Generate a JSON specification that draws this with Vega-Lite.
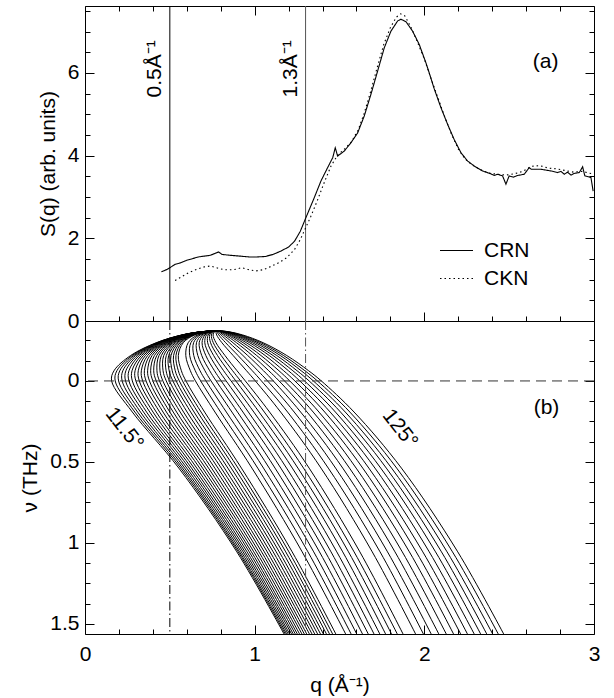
{
"$schema": "https://vega.github.io/schema/vega-lite/v6.json",
"padding": {"left": 19, "top": 5, "right": 5, "bottom": 2},
"config": {
  "font": "Liberation Sans",
  "view": {"stroke": "#000", "strokeWidth": 1},
  "axis": {"grid": false, "domain": false, "tickColor": "#000", "tickWidth": 1, "labelColor": "#000", "labelFontSize": 21, "labelFont": "Liberation Sans", "titleFont": "Liberation Sans", "titleFontSize": 21, "titleFontWeight": "normal", "titleColor": "#000", "labelFlush": false, "labelOverlap": false, "labelPadding": 15, "titlePadding": 9, "format": "~g"},
  "text": {"font": "Liberation Sans", "fontSize": 21, "color": "#000"}
},
"datasets": {
"sq": [
{"s":"CRN","q":0.450,"S":1.19},{"s":"CRN","q":0.485,"S":1.25},{"s":"CRN","q":0.531,"S":1.37},{"s":"CRN","q":0.565,"S":1.41},{"s":"CRN","q":0.600,"S":1.47},{"s":"CRN","q":0.635,"S":1.51},{"s":"CRN","q":0.669,"S":1.55},{"s":"CRN","q":0.704,"S":1.57},{"s":"CRN","q":0.739,"S":1.59},{"s":"CRN","q":0.769,"S":1.64},{"s":"CRN","q":0.787,"S":1.67},{"s":"CRN","q":0.808,"S":1.61},{"s":"CRN","q":0.854,"S":1.59},{"s":"CRN","q":0.912,"S":1.57},{"s":"CRN","q":0.969,"S":1.55},{"s":"CRN","q":1.015,"S":1.55},{"s":"CRN","q":1.062,"S":1.56},{"s":"CRN","q":1.108,"S":1.61},{"s":"CRN","q":1.154,"S":1.69},{"s":"CRN","q":1.200,"S":1.79},{"s":"CRN","q":1.235,"S":1.93},{"s":"CRN","q":1.269,"S":2.17},{"s":"CRN","q":1.302,"S":2.50},{"s":"CRN","q":1.351,"S":2.98},{"s":"CRN","q":1.391,"S":3.39},{"s":"CRN","q":1.430,"S":3.71},{"s":"CRN","q":1.460,"S":3.95},{"s":"CRN","q":1.475,"S":4.19},{"s":"CRN","q":1.489,"S":3.99},{"s":"CRN","q":1.528,"S":4.11},{"s":"CRN","q":1.567,"S":4.31},{"s":"CRN","q":1.607,"S":4.55},{"s":"CRN","q":1.646,"S":4.96},{"s":"CRN","q":1.685,"S":5.48},{"s":"CRN","q":1.725,"S":6.05},{"s":"CRN","q":1.764,"S":6.61},{"s":"CRN","q":1.803,"S":7.01},{"s":"CRN","q":1.843,"S":7.26},{"s":"CRN","q":1.862,"S":7.30},{"s":"CRN","q":1.892,"S":7.24},{"s":"CRN","q":1.931,"S":7.01},{"s":"CRN","q":1.970,"S":6.69},{"s":"CRN","q":2.009,"S":6.25},{"s":"CRN","q":2.029,"S":6.00},{"s":"CRN","q":2.058,"S":5.62},{"s":"CRN","q":2.098,"S":5.16},{"s":"CRN","q":2.137,"S":4.76},{"s":"CRN","q":2.176,"S":4.39},{"s":"CRN","q":2.216,"S":4.07},{"s":"CRN","q":2.255,"S":3.87},{"s":"CRN","q":2.294,"S":3.75},{"s":"CRN","q":2.343,"S":3.63},{"s":"CRN","q":2.392,"S":3.56},{"s":"CRN","q":2.412,"S":3.52},{"s":"CRN","q":2.432,"S":3.55},{"s":"CRN","q":2.461,"S":3.51},{"s":"CRN","q":2.481,"S":3.31},{"s":"CRN","q":2.500,"S":3.51},{"s":"CRN","q":2.525,"S":3.48},{"s":"CRN","q":2.550,"S":3.52},{"s":"CRN","q":2.589,"S":3.55},{"s":"CRN","q":2.618,"S":3.71},{"s":"CRN","q":2.630,"S":3.67},{"s":"CRN","q":2.687,"S":3.67},{"s":"CRN","q":2.746,"S":3.63},{"s":"CRN","q":2.785,"S":3.59},{"s":"CRN","q":2.805,"S":3.62},{"s":"CRN","q":2.825,"S":3.55},{"s":"CRN","q":2.844,"S":3.60},{"s":"CRN","q":2.864,"S":3.53},{"s":"CRN","q":2.884,"S":3.57},{"s":"CRN","q":2.913,"S":3.59},{"s":"CRN","q":2.933,"S":3.73},{"s":"CRN","q":2.946,"S":3.51},{"s":"CRN","q":2.982,"S":3.47},{"s":"CRN","q":2.995,"S":3.14},
{"s":"CKN","q":0.531,"S":0.98},{"s":"CKN","q":0.565,"S":1.06},{"s":"CKN","q":0.612,"S":1.17},{"s":"CKN","q":0.658,"S":1.25},{"s":"CKN","q":0.704,"S":1.31},{"s":"CKN","q":0.739,"S":1.33},{"s":"CKN","q":0.773,"S":1.29},{"s":"CKN","q":0.819,"S":1.24},{"s":"CKN","q":0.877,"S":1.24},{"s":"CKN","q":0.923,"S":1.29},{"s":"CKN","q":0.958,"S":1.25},{"s":"CKN","q":1.004,"S":1.21},{"s":"CKN","q":1.050,"S":1.24},{"s":"CKN","q":1.096,"S":1.32},{"s":"CKN","q":1.142,"S":1.41},{"s":"CKN","q":1.189,"S":1.53},{"s":"CKN","q":1.235,"S":1.73},{"s":"CKN","q":1.269,"S":1.97},{"s":"CKN","q":1.300,"S":2.25},{"s":"CKN","q":1.330,"S":2.52},{"s":"CKN","q":1.370,"S":2.92},{"s":"CKN","q":1.410,"S":3.35},{"s":"CKN","q":1.450,"S":3.75},{"s":"CKN","q":1.490,"S":4.02},{"s":"CKN","q":1.530,"S":4.16},{"s":"CKN","q":1.570,"S":4.33},{"s":"CKN","q":1.610,"S":4.62},{"s":"CKN","q":1.645,"S":5.02},{"s":"CKN","q":1.680,"S":5.50},{"s":"CKN","q":1.720,"S":6.10},{"s":"CKN","q":1.760,"S":6.68},{"s":"CKN","q":1.800,"S":7.10},{"s":"CKN","q":1.835,"S":7.35},{"s":"CKN","q":1.860,"S":7.43},{"s":"CKN","q":1.885,"S":7.38},{"s":"CKN","q":1.920,"S":7.12},{"s":"CKN","q":1.960,"S":6.74},{"s":"CKN","q":2.000,"S":6.34},{"s":"CKN","q":2.040,"S":5.86},{"s":"CKN","q":2.080,"S":5.40},{"s":"CKN","q":2.120,"S":4.94},{"s":"CKN","q":2.160,"S":4.52},{"s":"CKN","q":2.200,"S":4.16},{"s":"CKN","q":2.240,"S":3.92},{"s":"CKN","q":2.280,"S":3.78},{"s":"CKN","q":2.330,"S":3.66},{"s":"CKN","q":2.380,"S":3.58},{"s":"CKN","q":2.430,"S":3.55},{"s":"CKN","q":2.480,"S":3.53},{"s":"CKN","q":2.530,"S":3.56},{"s":"CKN","q":2.580,"S":3.62},{"s":"CKN","q":2.630,"S":3.74},{"s":"CKN","q":2.680,"S":3.76},{"s":"CKN","q":2.730,"S":3.70},{"s":"CKN","q":2.780,"S":3.68},{"s":"CKN","q":2.830,"S":3.64},{"s":"CKN","q":2.880,"S":3.60},{"s":"CKN","q":2.930,"S":3.62},{"s":"CKN","q":2.970,"S":3.58},{"s":"CKN","q":3.000,"S":3.55}
],
"kin": [
{"a":11.5,"v":-0.309,"q":0.785},{"a":11.5,"v":-0.304,"q":0.687},{"a":11.5,"v":-0.284,"q":0.571},{"a":11.5,"v":-0.236,"q":0.420},{"a":11.5,"v":-0.157,"q":0.269},{"a":11.5,"v":-0.063,"q":0.171},{"a":11.5,"v":0,"q":0.157},{"a":11.5,"v":0.192,"q":0.279},{"a":11.5,"v":0.538,"q":0.553},{"a":11.5,"v":1.055,"q":0.895},{"a":11.5,"v":1.596,"q":1.191},
{"a":13,"v":-0.309,"q":0.785},{"a":13,"v":-0.304,"q":0.688},{"a":13,"v":-0.284,"q":0.573},{"a":13,"v":-0.236,"q":0.424},{"a":13,"v":-0.157,"q":0.278},{"a":13,"v":-0.063,"q":0.188},{"a":13,"v":0,"q":0.178},{"a":13,"v":0.192,"q":0.294},{"a":13,"v":0.538,"q":0.564},{"a":13,"v":1.055,"q":0.903},{"a":13,"v":1.596,"q":1.198},
{"a":14.5,"v":-0.309,"q":0.785},{"a":14.5,"v":-0.304,"q":0.689},{"a":14.5,"v":-0.284,"q":0.575},{"a":14.5,"v":-0.236,"q":0.428},{"a":14.5,"v":-0.157,"q":0.288},{"a":14.5,"v":-0.063,"q":0.205},{"a":14.5,"v":0,"q":0.198},{"a":14.5,"v":0.192,"q":0.310},{"a":14.5,"v":0.538,"q":0.575},{"a":14.5,"v":1.055,"q":0.911},{"a":14.5,"v":1.596,"q":1.206},
{"a":16,"v":-0.309,"q":0.785},{"a":16,"v":-0.304,"q":0.689},{"a":16,"v":-0.284,"q":0.577},{"a":16,"v":-0.236,"q":0.433},{"a":16,"v":-0.157,"q":0.298},{"a":16,"v":-0.063,"q":0.223},{"a":16,"v":0,"q":0.219},{"a":16,"v":0.192,"q":0.327},{"a":16,"v":0.538,"q":0.587},{"a":16,"v":1.055,"q":0.921},{"a":16,"v":1.596,"q":1.215},
{"a":17.5,"v":-0.309,"q":0.785},{"a":17.5,"v":-0.304,"q":0.690},{"a":17.5,"v":-0.284,"q":0.579},{"a":17.5,"v":-0.236,"q":0.438},{"a":17.5,"v":-0.157,"q":0.309},{"a":17.5,"v":-0.063,"q":0.241},{"a":17.5,"v":0,"q":0.239},{"a":17.5,"v":0.192,"q":0.345},{"a":17.5,"v":0.538,"q":0.600},{"a":17.5,"v":1.055,"q":0.932},{"a":17.5,"v":1.596,"q":1.224},
{"a":19,"v":-0.309,"q":0.785},{"a":19,"v":-0.304,"q":0.691},{"a":19,"v":-0.284,"q":0.581},{"a":19,"v":-0.236,"q":0.443},{"a":19,"v":-0.157,"q":0.320},{"a":19,"v":-0.063,"q":0.259},{"a":19,"v":0,"q":0.259},{"a":19,"v":0.192,"q":0.363},{"a":19,"v":0.538,"q":0.614},{"a":19,"v":1.055,"q":0.943},{"a":19,"v":1.596,"q":1.235},
{"a":20.5,"v":-0.309,"q":0.785},{"a":20.5,"v":-0.304,"q":0.692},{"a":20.5,"v":-0.284,"q":0.584},{"a":20.5,"v":-0.236,"q":0.449},{"a":20.5,"v":-0.157,"q":0.332},{"a":20.5,"v":-0.063,"q":0.277},{"a":20.5,"v":0,"q":0.279},{"a":20.5,"v":0.192,"q":0.382},{"a":20.5,"v":0.538,"q":0.628},{"a":20.5,"v":1.055,"q":0.955},{"a":20.5,"v":1.596,"q":1.245},
{"a":22,"v":-0.309,"q":0.785},{"a":22,"v":-0.304,"q":0.693},{"a":22,"v":-0.284,"q":0.587},{"a":22,"v":-0.236,"q":0.456},{"a":22,"v":-0.157,"q":0.344},{"a":22,"v":-0.063,"q":0.295},{"a":22,"v":0,"q":0.300},{"a":22,"v":0.192,"q":0.401},{"a":22,"v":0.538,"q":0.643},{"a":22,"v":1.055,"q":0.968},{"a":22,"v":1.596,"q":1.257},
{"a":23.5,"v":-0.309,"q":0.785},{"a":23.5,"v":-0.304,"q":0.694},{"a":23.5,"v":-0.284,"q":0.590},{"a":23.5,"v":-0.236,"q":0.462},{"a":23.5,"v":-0.157,"q":0.356},{"a":23.5,"v":-0.063,"q":0.314},{"a":23.5,"v":0,"q":0.320},{"a":23.5,"v":0.192,"q":0.420},{"a":23.5,"v":0.538,"q":0.659},{"a":23.5,"v":1.055,"q":0.981},{"a":23.5,"v":1.596,"q":1.269},
{"a":25,"v":-0.309,"q":0.785},{"a":25,"v":-0.304,"q":0.696},{"a":25,"v":-0.284,"q":0.593},{"a":25,"v":-0.236,"q":0.469},{"a":25,"v":-0.157,"q":0.369},{"a":25,"v":-0.063,"q":0.332},{"a":25,"v":0,"q":0.340},{"a":25,"v":0.192,"q":0.440},{"a":25,"v":0.538,"q":0.676},{"a":25,"v":1.055,"q":0.995},{"a":25,"v":1.596,"q":1.282},
{"a":26.5,"v":-0.309,"q":0.785},{"a":26.5,"v":-0.304,"q":0.697},{"a":26.5,"v":-0.284,"q":0.596},{"a":26.5,"v":-0.236,"q":0.476},{"a":26.5,"v":-0.157,"q":0.382},{"a":26.5,"v":-0.063,"q":0.350},{"a":26.5,"v":0,"q":0.360},{"a":26.5,"v":0.192,"q":0.460},{"a":26.5,"v":0.538,"q":0.693},{"a":26.5,"v":1.055,"q":1.010},{"a":26.5,"v":1.596,"q":1.296},
{"a":28,"v":-0.309,"q":0.785},{"a":28,"v":-0.304,"q":0.698},{"a":28,"v":-0.284,"q":0.600},{"a":28,"v":-0.236,"q":0.484},{"a":28,"v":-0.157,"q":0.395},{"a":28,"v":-0.063,"q":0.369},{"a":28,"v":0,"q":0.380},{"a":28,"v":0.192,"q":0.480},{"a":28,"v":0.538,"q":0.710},{"a":28,"v":1.055,"q":1.025},{"a":28,"v":1.596,"q":1.310},
{"a":29.5,"v":-0.309,"q":0.785},{"a":29.5,"v":-0.304,"q":0.700},{"a":29.5,"v":-0.284,"q":0.603},{"a":29.5,"v":-0.236,"q":0.491},{"a":29.5,"v":-0.157,"q":0.409},{"a":29.5,"v":-0.063,"q":0.387},{"a":29.5,"v":0,"q":0.400},{"a":29.5,"v":0.192,"q":0.500},{"a":29.5,"v":0.538,"q":0.728},{"a":29.5,"v":1.055,"q":1.041},{"a":29.5,"v":1.596,"q":1.324},
{"a":31,"v":-0.309,"q":0.785},{"a":31,"v":-0.304,"q":0.701},{"a":31,"v":-0.284,"q":0.607},{"a":31,"v":-0.236,"q":0.499},{"a":31,"v":-0.157,"q":0.423},{"a":31,"v":-0.063,"q":0.405},{"a":31,"v":0,"q":0.420},{"a":31,"v":0.192,"q":0.520},{"a":31,"v":0.538,"q":0.746},{"a":31,"v":1.055,"q":1.057},{"a":31,"v":1.596,"q":1.340},
{"a":32.5,"v":-0.309,"q":0.785},{"a":32.5,"v":-0.304,"q":0.703},{"a":32.5,"v":-0.284,"q":0.611},{"a":32.5,"v":-0.236,"q":0.507},{"a":32.5,"v":-0.157,"q":0.436},{"a":32.5,"v":-0.063,"q":0.424},{"a":32.5,"v":0,"q":0.439},{"a":32.5,"v":0.192,"q":0.540},{"a":32.5,"v":0.538,"q":0.765},{"a":32.5,"v":1.055,"q":1.074},{"a":32.5,"v":1.596,"q":1.355},
{"a":34,"v":-0.309,"q":0.785},{"a":34,"v":-0.304,"q":0.704},{"a":34,"v":-0.284,"q":0.615},{"a":34,"v":-0.236,"q":0.516},{"a":34,"v":-0.157,"q":0.450},{"a":34,"v":-0.063,"q":0.442},{"a":34,"v":0,"q":0.459},{"a":34,"v":0.192,"q":0.561},{"a":34,"v":0.538,"q":0.784},{"a":34,"v":1.055,"q":1.091},{"a":34,"v":1.596,"q":1.371},
{"a":35.5,"v":-0.309,"q":0.785},{"a":35.5,"v":-0.304,"q":0.706},{"a":35.5,"v":-0.284,"q":0.619},{"a":35.5,"v":-0.236,"q":0.524},{"a":35.5,"v":-0.157,"q":0.464},{"a":35.5,"v":-0.063,"q":0.460},{"a":35.5,"v":0,"q":0.479},{"a":35.5,"v":0.192,"q":0.581},{"a":35.5,"v":0.538,"q":0.803},{"a":35.5,"v":1.055,"q":1.109},{"a":35.5,"v":1.596,"q":1.388},
{"a":37,"v":-0.309,"q":0.785},{"a":37,"v":-0.304,"q":0.708},{"a":37,"v":-0.284,"q":0.624},{"a":37,"v":-0.236,"q":0.533},{"a":37,"v":-0.157,"q":0.479},{"a":37,"v":-0.063,"q":0.478},{"a":37,"v":0,"q":0.498},{"a":37,"v":0.192,"q":0.602},{"a":37,"v":0.538,"q":0.822},{"a":37,"v":1.055,"q":1.127},{"a":37,"v":1.596,"q":1.405},
{"a":38.5,"v":-0.309,"q":0.785},{"a":38.5,"v":-0.304,"q":0.710},{"a":38.5,"v":-0.284,"q":0.628},{"a":38.5,"v":-0.236,"q":0.542},{"a":38.5,"v":-0.157,"q":0.493},{"a":38.5,"v":-0.063,"q":0.496},{"a":38.5,"v":0,"q":0.518},{"a":38.5,"v":0.192,"q":0.623},{"a":38.5,"v":0.538,"q":0.842},{"a":38.5,"v":1.055,"q":1.145},{"a":38.5,"v":1.596,"q":1.422},
{"a":40,"v":-0.309,"q":0.785},{"a":40,"v":-0.304,"q":0.711},{"a":40,"v":-0.284,"q":0.633},{"a":40,"v":-0.236,"q":0.551},{"a":40,"v":-0.157,"q":0.507},{"a":40,"v":-0.063,"q":0.514},{"a":40,"v":0,"q":0.537},{"a":40,"v":0.192,"q":0.643},{"a":40,"v":0.538,"q":0.862},{"a":40,"v":1.055,"q":1.164},{"a":40,"v":1.596,"q":1.440},
{"a":41.5,"v":-0.309,"q":0.785},{"a":41.5,"v":-0.304,"q":0.713},{"a":41.5,"v":-0.284,"q":0.637},{"a":41.5,"v":-0.236,"q":0.560},{"a":41.5,"v":-0.157,"q":0.522},{"a":41.5,"v":-0.063,"q":0.532},{"a":41.5,"v":0,"q":0.556},{"a":41.5,"v":0.192,"q":0.664},{"a":41.5,"v":0.538,"q":0.882},{"a":41.5,"v":1.055,"q":1.183},{"a":41.5,"v":1.596,"q":1.458},
{"a":43,"v":-0.309,"q":0.785},{"a":43,"v":-0.304,"q":0.715},{"a":43,"v":-0.284,"q":0.642},{"a":43,"v":-0.236,"q":0.570},{"a":43,"v":-0.157,"q":0.536},{"a":43,"v":-0.063,"q":0.550},{"a":43,"v":0,"q":0.575},{"a":43,"v":0.192,"q":0.684},{"a":43,"v":0.538,"q":0.902},{"a":43,"v":1.055,"q":1.202},{"a":43,"v":1.596,"q":1.476},
{"a":44.5,"v":-0.309,"q":0.785},{"a":44.5,"v":-0.304,"q":0.717},{"a":44.5,"v":-0.284,"q":0.647},{"a":44.5,"v":-0.236,"q":0.579},{"a":44.5,"v":-0.157,"q":0.550},{"a":44.5,"v":-0.063,"q":0.568},{"a":44.5,"v":0,"q":0.595},{"a":44.5,"v":0.192,"q":0.705},{"a":44.5,"v":0.538,"q":0.922},{"a":44.5,"v":1.055,"q":1.221},{"a":44.5,"v":1.596,"q":1.495},
{"a":49,"v":-0.309,"q":0.785},{"a":49,"v":-0.304,"q":0.723},{"a":49,"v":-0.284,"q":0.662},{"a":49,"v":-0.236,"q":0.608},{"a":49,"v":-0.157,"q":0.594},{"a":49,"v":-0.063,"q":0.621},{"a":49,"v":0,"q":0.651},{"a":49,"v":0.192,"q":0.766},{"a":49,"v":0.538,"q":0.984},{"a":49,"v":1.055,"q":1.280},{"a":49,"v":1.596,"q":1.553},
{"a":51.5,"v":-0.309,"q":0.785},{"a":51.5,"v":-0.304,"q":0.727},{"a":51.5,"v":-0.284,"q":0.671},{"a":51.5,"v":-0.236,"q":0.624},{"a":51.5,"v":-0.157,"q":0.617},{"a":51.5,"v":-0.063,"q":0.650},{"a":51.5,"v":0,"q":0.682},{"a":51.5,"v":0.192,"q":0.799},{"a":51.5,"v":0.538,"q":1.018},{"a":51.5,"v":1.055,"q":1.314},{"a":51.5,"v":1.596,"q":1.585},
{"a":54,"v":-0.309,"q":0.785},{"a":54,"v":-0.304,"q":0.731},{"a":54,"v":-0.284,"q":0.679},{"a":54,"v":-0.236,"q":0.640},{"a":54,"v":-0.157,"q":0.641},{"a":54,"v":-0.063,"q":0.678},{"a":54,"v":0,"q":0.713},{"a":54,"v":0.192,"q":0.833},{"a":54,"v":0.538,"q":1.052},{"a":54,"v":1.055,"q":1.348},{"a":54,"v":1.596,"q":1.618},
{"a":56.5,"v":-0.309,"q":0.785},{"a":56.5,"v":-0.304,"q":0.735},{"a":56.5,"v":-0.284,"q":0.689},{"a":56.5,"v":-0.236,"q":0.657},{"a":56.5,"v":-0.157,"q":0.665},{"a":56.5,"v":-0.063,"q":0.707},{"a":56.5,"v":0,"q":0.743},{"a":56.5,"v":0.192,"q":0.866},{"a":56.5,"v":0.538,"q":1.086},{"a":56.5,"v":1.055,"q":1.382},{"a":56.5,"v":1.596,"q":1.652},
{"a":59,"v":-0.309,"q":0.785},{"a":59,"v":-0.304,"q":0.739},{"a":59,"v":-0.284,"q":0.698},{"a":59,"v":-0.236,"q":0.673},{"a":59,"v":-0.157,"q":0.688},{"a":59,"v":-0.063,"q":0.735},{"a":59,"v":0,"q":0.773},{"a":59,"v":0.192,"q":0.899},{"a":59,"v":0.538,"q":1.120},{"a":59,"v":1.055,"q":1.416},{"a":59,"v":1.596,"q":1.686},
{"a":61.5,"v":-0.309,"q":0.785},{"a":61.5,"v":-0.304,"q":0.743},{"a":61.5,"v":-0.284,"q":0.707},{"a":61.5,"v":-0.236,"q":0.690},{"a":61.5,"v":-0.157,"q":0.712},{"a":61.5,"v":-0.063,"q":0.763},{"a":61.5,"v":0,"q":0.803},{"a":61.5,"v":0.192,"q":0.931},{"a":61.5,"v":0.538,"q":1.154},{"a":61.5,"v":1.055,"q":1.450},{"a":61.5,"v":1.596,"q":1.720},
{"a":64,"v":-0.309,"q":0.785},{"a":64,"v":-0.304,"q":0.747},{"a":64,"v":-0.284,"q":0.716},{"a":64,"v":-0.236,"q":0.706},{"a":64,"v":-0.157,"q":0.735},{"a":64,"v":-0.063,"q":0.790},{"a":64,"v":0,"q":0.832},{"a":64,"v":0.192,"q":0.963},{"a":64,"v":0.538,"q":1.188},{"a":64,"v":1.055,"q":1.484},{"a":64,"v":1.596,"q":1.754},
{"a":66.5,"v":-0.309,"q":0.785},{"a":66.5,"v":-0.304,"q":0.751},{"a":66.5,"v":-0.284,"q":0.726},{"a":66.5,"v":-0.236,"q":0.723},{"a":66.5,"v":-0.157,"q":0.758},{"a":66.5,"v":-0.063,"q":0.817},{"a":66.5,"v":0,"q":0.861},{"a":66.5,"v":0.192,"q":0.995},{"a":66.5,"v":0.538,"q":1.222},{"a":66.5,"v":1.055,"q":1.519},{"a":66.5,"v":1.596,"q":1.788},
{"a":69,"v":-0.309,"q":0.785},{"a":69,"v":-0.304,"q":0.755},{"a":69,"v":-0.284,"q":0.735},{"a":69,"v":-0.236,"q":0.740},{"a":69,"v":-0.157,"q":0.781},{"a":69,"v":-0.063,"q":0.844},{"a":69,"v":0,"q":0.889},{"a":69,"v":0.192,"q":1.026},{"a":69,"v":0.538,"q":1.255},{"a":69,"v":1.055,"q":1.553},{"a":69,"v":1.596,"q":1.823},
{"a":71.5,"v":-0.309,"q":0.785},{"a":71.5,"v":-0.304,"q":0.759},{"a":71.5,"v":-0.284,"q":0.745},{"a":71.5,"v":-0.236,"q":0.756},{"a":71.5,"v":-0.157,"q":0.803},{"a":71.5,"v":-0.063,"q":0.870},{"a":71.5,"v":0,"q":0.917},{"a":71.5,"v":0.192,"q":1.057},{"a":71.5,"v":0.538,"q":1.288},{"a":71.5,"v":1.055,"q":1.586},{"a":71.5,"v":1.596,"q":1.857},
{"a":74,"v":-0.309,"q":0.785},{"a":74,"v":-0.304,"q":0.764},{"a":74,"v":-0.284,"q":0.755},{"a":74,"v":-0.236,"q":0.772},{"a":74,"v":-0.157,"q":0.825},{"a":74,"v":-0.063,"q":0.896},{"a":74,"v":0,"q":0.945},{"a":74,"v":0.192,"q":1.088},{"a":74,"v":0.538,"q":1.321},{"a":74,"v":1.055,"q":1.620},{"a":74,"v":1.596,"q":1.891},
{"a":79.5,"v":-0.309,"q":0.785},{"a":79.5,"v":-0.304,"q":0.773},{"a":79.5,"v":-0.284,"q":0.776},{"a":79.5,"v":-0.236,"q":0.807},{"a":79.5,"v":-0.157,"q":0.873},{"a":79.5,"v":-0.063,"q":0.952},{"a":79.5,"v":0,"q":1.004},{"a":79.5,"v":0.192,"q":1.153},{"a":79.5,"v":0.538,"q":1.391},{"a":79.5,"v":1.055,"q":1.693},{"a":79.5,"v":1.596,"q":1.965},
{"a":83,"v":-0.309,"q":0.785},{"a":83,"v":-0.304,"q":0.779},{"a":83,"v":-0.284,"q":0.789},{"a":83,"v":-0.236,"q":0.829},{"a":83,"v":-0.157,"q":0.902},{"a":83,"v":-0.063,"q":0.986},{"a":83,"v":0,"q":1.040},{"a":83,"v":0.192,"q":1.194},{"a":83,"v":0.538,"q":1.434},{"a":83,"v":1.055,"q":1.739},{"a":83,"v":1.596,"q":2.011},
{"a":86.5,"v":-0.309,"q":0.785},{"a":86.5,"v":-0.304,"q":0.785},{"a":86.5,"v":-0.284,"q":0.802},{"a":86.5,"v":-0.236,"q":0.851},{"a":86.5,"v":-0.157,"q":0.931},{"a":86.5,"v":-0.063,"q":1.019},{"a":86.5,"v":0,"q":1.076},{"a":86.5,"v":0.192,"q":1.233},{"a":86.5,"v":0.538,"q":1.477},{"a":86.5,"v":1.055,"q":1.783},{"a":86.5,"v":1.596,"q":2.057},
{"a":90,"v":-0.309,"q":0.785},{"a":90,"v":-0.304,"q":0.791},{"a":90,"v":-0.284,"q":0.815},{"a":90,"v":-0.236,"q":0.872},{"a":90,"v":-0.157,"q":0.959},{"a":90,"v":-0.063,"q":1.052},{"a":90,"v":0,"q":1.110},{"a":90,"v":0.192,"q":1.271},{"a":90,"v":0.538,"q":1.519},{"a":90,"v":1.055,"q":1.827},{"a":90,"v":1.596,"q":2.102},
{"a":93.5,"v":-0.309,"q":0.785},{"a":93.5,"v":-0.304,"q":0.797},{"a":93.5,"v":-0.284,"q":0.828},{"a":93.5,"v":-0.236,"q":0.893},{"a":93.5,"v":-0.157,"q":0.986},{"a":93.5,"v":-0.063,"q":1.083},{"a":93.5,"v":0,"q":1.144},{"a":93.5,"v":0.192,"q":1.309},{"a":93.5,"v":0.538,"q":1.559},{"a":93.5,"v":1.055,"q":1.870},{"a":93.5,"v":1.596,"q":2.146},
{"a":97,"v":-0.309,"q":0.785},{"a":97,"v":-0.304,"q":0.803},{"a":97,"v":-0.284,"q":0.841},{"a":97,"v":-0.236,"q":0.913},{"a":97,"v":-0.157,"q":1.012},{"a":97,"v":-0.063,"q":1.114},{"a":97,"v":0,"q":1.176},{"a":97,"v":0.192,"q":1.345},{"a":97,"v":0.538,"q":1.598},{"a":97,"v":1.055,"q":1.912},{"a":97,"v":1.596,"q":2.189},
{"a":100.5,"v":-0.309,"q":0.785},{"a":100.5,"v":-0.304,"q":0.809},{"a":100.5,"v":-0.284,"q":0.853},{"a":100.5,"v":-0.236,"q":0.932},{"a":100.5,"v":-0.157,"q":1.037},{"a":100.5,"v":-0.063,"q":1.143},{"a":100.5,"v":0,"q":1.207},{"a":100.5,"v":0.192,"q":1.379},{"a":100.5,"v":0.538,"q":1.637},{"a":100.5,"v":1.055,"q":1.952},{"a":100.5,"v":1.596,"q":2.231},
{"a":104,"v":-0.309,"q":0.785},{"a":104,"v":-0.304,"q":0.815},{"a":104,"v":-0.284,"q":0.865},{"a":104,"v":-0.236,"q":0.951},{"a":104,"v":-0.157,"q":1.062},{"a":104,"v":-0.063,"q":1.171},{"a":104,"v":0,"q":1.237},{"a":104,"v":0.192,"q":1.413},{"a":104,"v":0.538,"q":1.673},{"a":104,"v":1.055,"q":1.991},{"a":104,"v":1.596,"q":2.271},
{"a":107.5,"v":-0.309,"q":0.785},{"a":107.5,"v":-0.304,"q":0.821},{"a":107.5,"v":-0.284,"q":0.877},{"a":107.5,"v":-0.236,"q":0.970},{"a":107.5,"v":-0.157,"q":1.086},{"a":107.5,"v":-0.063,"q":1.199},{"a":107.5,"v":0,"q":1.266},{"a":107.5,"v":0.192,"q":1.445},{"a":107.5,"v":0.538,"q":1.709},{"a":107.5,"v":1.055,"q":2.029},{"a":107.5,"v":1.596,"q":2.311},
{"a":111,"v":-0.309,"q":0.785},{"a":111,"v":-0.304,"q":0.826},{"a":111,"v":-0.284,"q":0.888},{"a":111,"v":-0.236,"q":0.987},{"a":111,"v":-0.157,"q":1.108},{"a":111,"v":-0.063,"q":1.225},{"a":111,"v":0,"q":1.294},{"a":111,"v":0.192,"q":1.476},{"a":111,"v":0.538,"q":1.743},{"a":111,"v":1.055,"q":2.066},{"a":111,"v":1.596,"q":2.349},
{"a":114.5,"v":-0.309,"q":0.785},{"a":114.5,"v":-0.304,"q":0.832},{"a":114.5,"v":-0.284,"q":0.899},{"a":114.5,"v":-0.236,"q":1.004},{"a":114.5,"v":-0.157,"q":1.130},{"a":114.5,"v":-0.063,"q":1.250},{"a":114.5,"v":0,"q":1.321},{"a":114.5,"v":0.192,"q":1.506},{"a":114.5,"v":0.538,"q":1.776},{"a":114.5,"v":1.055,"q":2.101},{"a":114.5,"v":1.596,"q":2.385},
{"a":118,"v":-0.309,"q":0.785},{"a":118,"v":-0.304,"q":0.837},{"a":118,"v":-0.284,"q":0.909},{"a":118,"v":-0.236,"q":1.020},{"a":118,"v":-0.157,"q":1.151},{"a":118,"v":-0.063,"q":1.274},{"a":118,"v":0,"q":1.346},{"a":118,"v":0.192,"q":1.534},{"a":118,"v":0.538,"q":1.807},{"a":118,"v":1.055,"q":2.134},{"a":118,"v":1.596,"q":2.420},
{"a":121.5,"v":-0.309,"q":0.785},{"a":121.5,"v":-0.304,"q":0.842},{"a":121.5,"v":-0.284,"q":0.919},{"a":121.5,"v":-0.236,"q":1.036},{"a":121.5,"v":-0.157,"q":1.170},{"a":121.5,"v":-0.063,"q":1.296},{"a":121.5,"v":0,"q":1.370},{"a":121.5,"v":0.192,"q":1.561},{"a":121.5,"v":0.538,"q":1.837},{"a":121.5,"v":1.055,"q":2.166},{"a":121.5,"v":1.596,"q":2.453},
{"a":125,"v":-0.309,"q":0.785},{"a":125,"v":-0.304,"q":0.846},{"a":125,"v":-0.284,"q":0.929},{"a":125,"v":-0.236,"q":1.050},{"a":125,"v":-0.157,"q":1.189},{"a":125,"v":-0.063,"q":1.318},{"a":125,"v":0,"q":1.393},{"a":125,"v":0.192,"q":1.586},{"a":125,"v":0.538,"q":1.865},{"a":125,"v":1.055,"q":2.197},{"a":125,"v":1.596,"q":2.485}
]
},
"spacing": 0,
"bounds": "flush",
"vconcat": [
{
  "width": 509, "height": 315,
  "layer": [
    {"data": {"values": [{}]}, "mark": {"type": "rule", "stroke": "#000", "strokeWidth": 1},
     "encoding": {"x": {"datum": 0.5, "type": "quantitative", "axis": null, "scale": {"domain": [0, 3], "nice": false, "zero": false}}}},
    {"data": {"values": [{}]}, "mark": {"type": "rule", "stroke": "#555", "strokeWidth": 1},
     "encoding": {"x": {"datum": 1.3, "type": "quantitative", "axis": null}}},
    {"data": {"name": "sq"}, "mark": {"type": "line", "color": "#000", "strokeWidth": 1.1},
     "encoding": {
       "x": {"field": "q", "type": "quantitative", "scale": {"domain": [0, 3], "nice": false, "zero": false},
             "axis": {"orient": "bottom", "values": [0,0.2,0.4,0.6,0.8,1,1.2,1.4,1.6,1.8,2,2.2,2.4,2.6,2.8,3], "labels": false, "title": null, "tickSize": {"condition": {"test": "datum.value % 1 === 0", "value": -9}, "value": -5}}},
       "y": {"field": "S", "type": "quantitative", "scale": {"domain": [0, 7.62], "nice": false, "zero": false},
             "axis": {"orient": "left", "values": [0,0.5,1,1.5,2,2.5,3,3.5,4,4.5,5,5.5,6,6.5,7,7.5], "labelExpr": "datum.value % 2 === 0 ? datum.label : ''", "labelFontSize": {"condition": {"test": "datum.value % 2 === 0", "value": 21}, "value": 0}, "title": "S(q) (arb. units)", "tickSize": {"condition": {"test": "datum.value % 2 === 0", "value": -9}, "value": -5}}},
       "strokeDash": {"field": "s", "type": "nominal", "scale": {"domain": ["CRN", "CKN"], "range": [[1, 0], [1.5, 3]]},
             "legend": {"orient": "none", "legendX": 354, "legendY": 227, "title": null, "symbolType": "stroke", "symbolSize": 1089, "symbolStrokeWidth": 1.2, "symbolStrokeColor": "#000", "labelFontSize": 21, "labelFont": "Liberation Sans", "labelColor": "#000", "rowPadding": -6, "labelOffset": 10}}
     }},
    {"data": {"values": [{}]}, "mark": {"type": "text", "text": "0.5Å⁻¹", "angle": 270},
     "encoding": {"x": {"datum": 0.415, "type": "quantitative", "axis": null}, "y": {"datum": 6.1, "type": "quantitative", "axis": null}}},
    {"data": {"values": [{}]}, "mark": {"type": "text", "text": "1.3Å⁻¹", "angle": 270},
     "encoding": {"x": {"datum": 1.216, "type": "quantitative", "axis": null}, "y": {"datum": 6.1, "type": "quantitative", "axis": null}}},
    {"data": {"values": [{}]}, "mark": {"type": "text", "text": "(a)"},
     "encoding": {
       "x": {"datum": 2.715, "type": "quantitative", "axis": {"orient": "top", "values": [0,0.2,0.4,0.6,0.8,1,1.2,1.4,1.6,1.8,2,2.2,2.4,2.6,2.8,3], "labels": false, "title": null, "tickSize": {"condition": {"test": "datum.value % 1 === 0", "value": -9}, "value": -5}}},
       "y": {"datum": 6.26, "type": "quantitative", "axis": {"orient": "right", "values": [0,0.5,1,1.5,2,2.5,3,3.5,4,4.5,5,5.5,6,6.5,7,7.5], "labels": false, "title": null, "tickSize": {"condition": {"test": "datum.value % 2 === 0", "value": -9}, "value": -5}}}
     }}
  ],
  "resolve": {"axis": {"x": "independent", "y": "independent"}}
},
{
  "width": 509, "height": 313,
  "layer": [
    {"data": {"name": "kin"}, "mark": {"type": "line", "color": "#000", "strokeWidth": 1, "interpolate": "catmull-rom", "clip": true},
     "encoding": {
       "x": {"field": "q", "type": "quantitative", "scale": {"domain": [0, 3], "nice": false, "zero": false},
             "axis": {"orient": "bottom", "values": [0,0.2,0.4,0.6,0.8,1,1.2,1.4,1.6,1.8,2,2.2,2.4,2.6,2.8,3], "labelExpr": "datum.value % 1 === 0 ? datum.label : ''", "labelFontSize": {"condition": {"test": "datum.value % 1 === 0", "value": 21}, "value": 0}, "labelPadding": 18, "title": "q (Å⁻¹)", "titlePadding": 10, "tickSize": {"condition": {"test": "datum.value % 1 === 0", "value": -9}, "value": -5}}},
       "y": {"field": "v", "type": "quantitative", "scale": {"domain": [-0.37, 1.562], "nice": false, "zero": false, "reverse": true},
             "axis": {"orient": "left", "values": [-0.25,-0.125,0,0.125,0.25,0.375,0.5,0.625,0.75,0.875,1,1.125,1.25,1.375,1.5], "labelExpr": "datum.value % 0.5 === 0 ? datum.label : ''", "labelFontSize": {"condition": {"test": "datum.value % 0.5 === 0", "value": 21}, "value": 0}, "title": "ν (THz)", "tickSize": {"condition": {"test": "datum.value % 0.5 === 0", "value": -9}, "value": -5}}},
       "detail": {"field": "a", "type": "quantitative"},
       "order": {"field": "v", "type": "quantitative"}
     }},
    {"data": {"values": [{}]}, "mark": {"type": "rule", "stroke": "#333", "strokeWidth": 1, "strokeDash": [10, 6]},
     "encoding": {"y": {"datum": 0, "type": "quantitative", "axis": null}}},
    {"data": {"values": [{}]}, "mark": {"type": "rule", "stroke": "#000", "strokeWidth": 1, "strokeDash": [9, 3, 1.5, 3]},
     "encoding": {"x": {"datum": 0.5, "type": "quantitative", "axis": null}}},
    {"data": {"values": [{}]}, "mark": {"type": "rule", "stroke": "#555", "strokeWidth": 1, "strokeDash": [9, 3, 1.5, 3]},
     "encoding": {"x": {"datum": 1.3, "type": "quantitative", "axis": null}}},
    {"data": {"values": [{}]}, "mark": {"type": "text", "text": "11.5°", "angle": 52},
     "encoding": {"x": {"datum": 0.231, "type": "quantitative", "axis": null}, "y": {"datum": 0.296, "type": "quantitative", "axis": null}}},
    {"data": {"values": [{}]}, "mark": {"type": "text", "text": "125°", "angle": 52},
     "encoding": {"x": {"datum": 1.856, "type": "quantitative", "axis": null}, "y": {"datum": 0.296, "type": "quantitative", "axis": null}}},
    {"data": {"values": [{}]}, "mark": {"type": "text", "text": "(b)"},
     "encoding": {
       "x": {"datum": 2.72, "type": "quantitative", "axis": null},
       "y": {"datum": 0.167, "type": "quantitative", "axis": {"orient": "right", "values": [-0.25,-0.125,0,0.125,0.25,0.375,0.5,0.625,0.75,0.875,1,1.125,1.25,1.375,1.5], "labels": false, "title": null, "tickSize": {"condition": {"test": "datum.value % 0.5 === 0", "value": -9}, "value": -5}}}
     }}
  ],
  "resolve": {"axis": {"x": "independent", "y": "independent"}}
}
]
}
